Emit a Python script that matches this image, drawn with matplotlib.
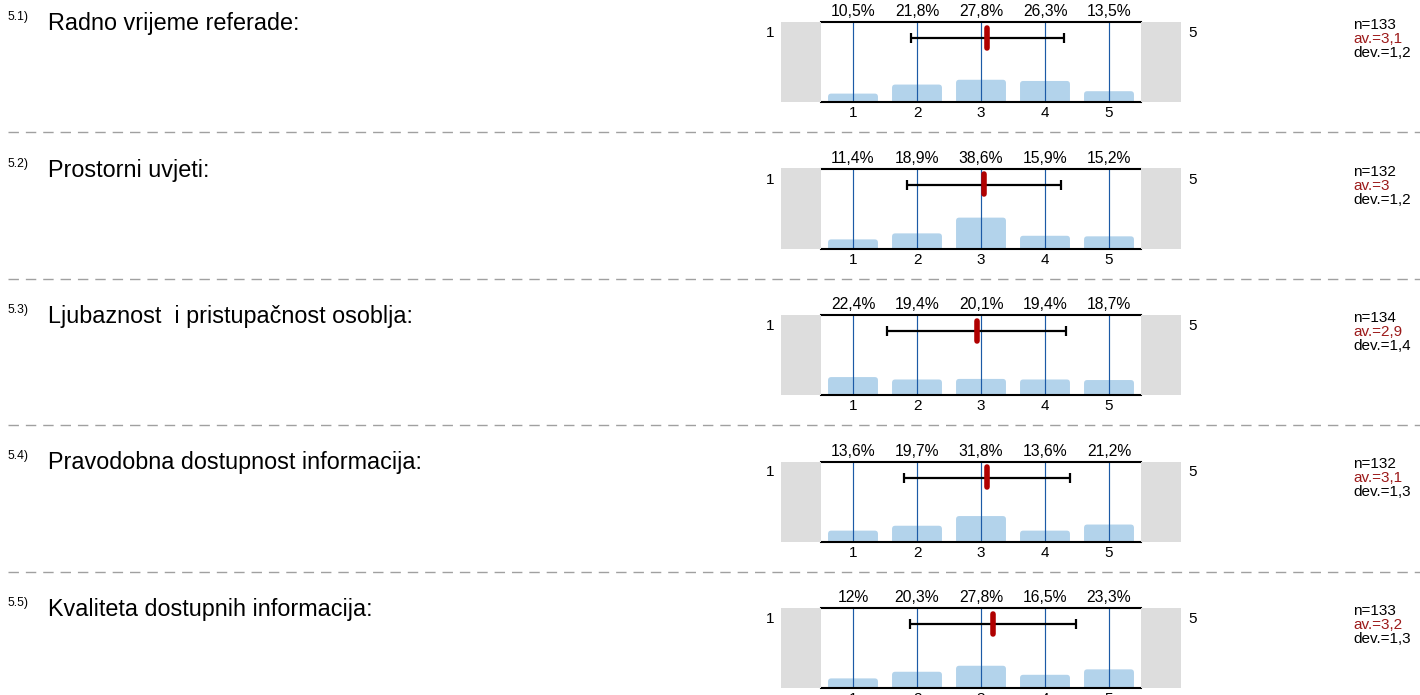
import matplotlib
matplotlib.use("Agg")
import matplotlib.pyplot as plt
from matplotlib.patches import FancyBboxPatch, Rectangle
from matplotlib.lines import Line2D

plt.rcParams['font.family'] = ['Liberation Sans', 'DejaVu Sans']

numbers = ["5.1)", "5.2)", "5.3)", "5.4)", "5.5)"]
questions = ["Radno vrijeme referade:",
             "Prostorni uvjeti:",
             "Ljubaznost  i pristupačnost osoblja:",
             "Pravodobna dostupnost informacija:",
             "Kvaliteta dostupnih informacija:"]
categories = [1, 2, 3, 4, 5]
percentages = [
    [10.5, 21.8, 27.8, 26.3, 13.5],
    [11.4, 18.9, 38.6, 15.9, 15.2],
    [22.4, 19.4, 20.1, 19.4, 18.7],
    [13.6, 19.7, 31.8, 13.6, 21.2],
    [12.0, 20.3, 27.8, 16.5, 23.3],
]
pct_labels = [
    ["10,5%", "21,8%", "27,8%", "26,3%", "13,5%"],
    ["11,4%", "18,9%", "38,6%", "15,9%", "15,2%"],
    ["22,4%", "19,4%", "20,1%", "19,4%", "18,7%"],
    ["13,6%", "19,7%", "31,8%", "13,6%", "21,2%"],
    ["12%", "20,3%", "27,8%", "16,5%", "23,3%"],
]
n_values = [133, 132, 134, 132, 133]
means = [3.10, 3.05, 2.93, 3.09, 3.19]
devs = [1.2, 1.2, 1.4, 1.3, 1.3]
mean_labels = ["3,1", "3", "2,9", "3,1", "3,2"]
dev_labels = ["1,2", "1,2", "1,4", "1,3", "1,3"]
left_label, right_label = "1", "5"

W, H = 1420, 695
fig = plt.figure(figsize=(W / 100, H / 100), dpi=100)

def fx(px):
    return px / W

def fy(py):
    return 1 - py / H

BAR_C = "#b3d3eb"
LINE_C = "#1c5aa6"
RED = "#b00000"
GREY = "#dddddd"

spacing = 146.5
x0, x1 = 821, 1141
for i in range(5):
    top = 22 + i * spacing
    bot = top + 80
    # grey side boxes
    for gx in (781, 1141):
        fig.patches.append(Rectangle((fx(gx), fy(bot)), fx(40), (bot - top) / H,
                                     transform=fig.transFigure, facecolor=GREY,
                                     edgecolor="none", zorder=0))
    ax = fig.add_axes([fx(x0), fy(bot), fx(x1 - x0), (bot - top) / H])
    ax.set_xlim(0.5, 5.5)
    ax.set_ylim(0, 100)
    for s in ["left", "right"]:
        ax.spines[s].set_visible(False)
    for s in ["top", "bottom"]:
        ax.spines[s].set_linewidth(1.5)
        ax.spines[s].set_color("black")
    ax.set_yticks([])
    ax.set_xticks(categories)
    ax.set_xticklabels([str(c) for c in categories], fontsize=11)
    ax.tick_params(axis="x", length=0, pad=3)
    bw = 0.78
    rs = 0.05
    for c, p in zip(categories, percentages[i]):
        patch = FancyBboxPatch((c - bw / 2, -10), bw, p + 10,
                               boxstyle=f"round,pad=0,rounding_size={rs}",
                               mutation_aspect=80, facecolor=BAR_C,
                               edgecolor="none", zorder=1)
        ax.add_patch(patch)
        ax.axvline(c, color=LINE_C, lw=0.85, zorder=2)
        ax.annotate(pct_labels[i][c - 1], xy=(c, 1), xycoords=ax.get_xaxis_transform(),
                    xytext=(0, 7.3), textcoords="offset points",
                    ha="center", va="center", fontsize=11.3, annotation_clip=False)
    # mean +/- deviation
    ey = 80
    ax.errorbar([means[i]], [ey], xerr=[devs[i]], fmt="none", ecolor="black",
                elinewidth=1.6, capsize=3.8, capthick=1.6, zorder=3)
    ax.plot([means[i], means[i]], [93, 68], color=RED, lw=4,
            solid_capstyle="round", zorder=4)
    ax.patch.set_alpha(0)

    # side labels
    fig.text(fx(770), fy(top + 11), left_label, ha="center", va="center", fontsize=11)
    fig.text(fx(1193), fy(top + 11), right_label, ha="center", va="center", fontsize=11)
    # question text
    fig.text(fx(8), fy(top - 2), numbers[i], ha="left", va="baseline", fontsize=8.8)
    fig.text(fx(48), fy(top + 8), questions[i], ha="left", va="baseline", fontsize=16.8)
    # stats
    fig.text(fx(1353), fy(top + 3), f"n={n_values[i]}", ha="left", va="center", fontsize=11)
    fig.text(fx(1353), fy(top + 17), f"av.={mean_labels[i]}", ha="left", va="center",
             fontsize=11, color="#9c1a1a")
    fig.text(fx(1353), fy(top + 31), f"dev.={dev_labels[i]}", ha="left", va="center",
             fontsize=11)
    # separator
    if i < 4:
        sy = top + 110
        fig.lines.append(Line2D([fx(8), fx(1420)], [fy(sy), fy(sy)],
                                transform=fig.transFigure, color="#a0a0a0",
                                lw=1, dashes=(7.5, 5)))

fig.savefig("out.png", dpi=100)
